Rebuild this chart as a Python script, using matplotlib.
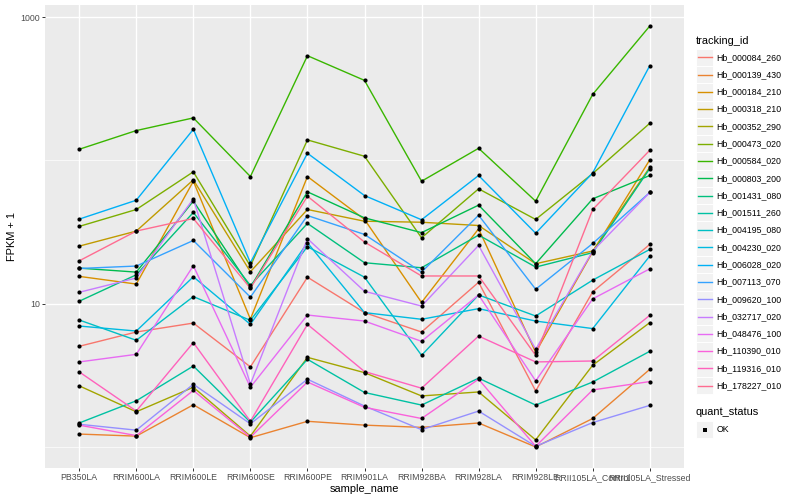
import matplotlib
matplotlib.use("Agg")
import matplotlib.pyplot as plt
from matplotlib.patches import Rectangle
from matplotlib.ticker import NullFormatter
import numpy as np

plt.rcParams['font.family'] = ['Liberation Sans', 'DejaVu Sans']

samples = ["PB350LA", "RRIM600LA", "RRIM600LE", "RRIM600SE", "RRIM600PE", "RRIM901LA",
           "RRIM928BA", "RRIM928LA", "RRIM928LE", "RRII105LA_Control", "RRII105LA_Stressed"]

ids = ["Hb_000084_260", "Hb_000139_430", "Hb_000184_210", "Hb_000318_210", "Hb_000352_290",
       "Hb_000473_020", "Hb_000584_020", "Hb_000803_200", "Hb_001431_080", "Hb_001511_260",
       "Hb_004195_080", "Hb_004230_020", "Hb_006028_020", "Hb_007113_070", "Hb_009620_100",
       "Hb_032717_020", "Hb_048476_100", "Hb_110390_010", "Hb_119316_010", "Hb_178227_010"]

# FPKM + 1, one list per gene, in sample order
hb_000084_260 = [5.04, 6.34, 7.32, 3.62, 15.3, 8.66, 6.34, 14.1, 2.46, 12.1, 25.9]
hb_000139_430 = [1.23, 1.19, 1.97, 1.16, 1.51, 1.42, 1.37, 1.47, 1.00, 1.58, 3.48]
hb_000184_210 = [15.5, 13.7, 71.5, 7.8, 77.1, 38.7, 10.2, 33.3, 4.58, 23.0, 100.8]
hb_000318_210 = [25.2, 32.1, 73.1, 16.7, 45.4, 37.6, 37.0, 35.1, 19.0, 23.3, 89.5]
hb_000352_290 = [2.67, 1.76, 2.61, 1.19, 4.22, 3.30, 2.27, 2.42, 1.12, 3.72, 7.37]
hb_000473_020 = [34.6, 45.4, 83.2, 18.3, 138.9, 106.8, 28.8, 63.3, 38.7, 80.9, 181.4]
hb_000584_020 = [119.5, 161.4, 197.8, 77.1, 537.5, 361.5, 71.5, 121.4, 51.9, 288.8, 865.5]
hb_000803_200 = [17.7, 16.6, 52.0, 13.0, 60.3, 39.7, 31.3, 48.7, 19.0, 53.9, 78.4]
hb_001431_080 = [10.4, 15.9, 43.3, 13.4, 36.3, 19.3, 17.8, 30.1, 18.0, 22.7, 87.7]
hb_001511_260 = [1.47, 2.10, 3.67, 1.49, 4.09, 2.40, 1.96, 3.02, 1.96, 2.84, 4.65]
hb_004195_080 = [7.69, 5.55, 11.2, 7.65, 25.0, 15.3, 4.36, 11.5, 8.2, 14.6, 23.9]
hb_004230_020 = [6.98, 6.44, 15.4, 7.17, 26.6, 8.66, 7.78, 9.23, 7.56, 6.70, 21.5]
hb_006028_020 = [38.9, 52.7, 164.7, 19.3, 112.1, 56.8, 38.5, 78.4, 31.0, 81.8, 457.7]
hb_007113_070 = [17.6, 18.3, 27.6, 11.1, 41.2, 30.4, 16.6, 41.4, 12.6, 26.3, 59.7]
hb_009620_100 = [1.44, 1.31, 2.74, 1.45, 2.97, 1.93, 1.32, 1.78, 1.01, 1.48, 1.95]
hb_032717_020 = [12.0, 15.1, 53.9, 2.74, 28.4, 12.2, 9.62, 25.5, 4.80, 23.3, 59.7]
hb_048476_100 = [3.92, 4.43, 18.4, 2.61, 8.33, 7.56, 5.46, 11.5, 2.89, 10.8, 17.5]
hb_110390_010 = [1.42, 1.20, 2.48, 1.17, 2.84, 1.89, 1.58, 2.97, 1.01, 2.50, 2.86]
hb_119316_010 = [3.34, 1.78, 5.35, 1.51, 7.17, 3.36, 2.57, 5.94, 3.92, 3.98, 8.29]
hb_178227_010 = [19.9, 32.1, 39.3, 12.8, 56.2, 26.9, 15.6, 15.6, 4.36, 45.4, 117.6]

series = [hb_000084_260, hb_000139_430, hb_000184_210, hb_000318_210, hb_000352_290,
          hb_000473_020, hb_000584_020, hb_000803_200, hb_001431_080, hb_001511_260,
          hb_004195_080, hb_004230_020, hb_006028_020, hb_007113_070, hb_009620_100,
          hb_032717_020, hb_048476_100, hb_110390_010, hb_119316_010, hb_178227_010]

colors = ["#F8766D", "#EA8331", "#D89000", "#C09B00", "#A3A500", "#7CAE00", "#39B600",
          "#00BB4E", "#00BF7D", "#00C1A3", "#00BFC4", "#00BAE0", "#00B0F6", "#35A2FF",
          "#9590FF", "#C77CFF", "#E76BF3", "#FA62DB", "#FF62BC", "#FF6C91"]

fig = plt.figure(figsize=(8, 5), dpi=100)
ax = fig.add_axes([45 / 800, 32 / 500, 639 / 800, 463 / 500])
ax.set_facecolor('#EBEBEB')
ax.set_axisbelow(True)

x = np.arange(len(samples))
for vals, c in zip(series, colors):
    ax.plot(x, vals, color=c, lw=1.0, zorder=3)
for vals in series:
    ax.plot(x, vals, 'o', color='black', ms=3.0, mew=0, zorder=4, ls='none')

ax.set_yscale('log')
allv = np.concatenate([np.array(s) for s in series])
lo, hi = np.log10(allv.min()), np.log10(allv.max())
pad = 0.05 * (hi - lo)
ax.set_ylim(10 ** (lo - pad), 10 ** (hi + pad))
ax.set_xlim(-0.6, len(samples) - 0.4)

ax.set_yticks([10, 1000])
ax.set_yticklabels(["10", "1000"])
ax.set_yticks([1, 100], minor=True)
ax.yaxis.set_minor_formatter(NullFormatter())
ax.set_xticks(x)
ax.set_xticklabels(samples)

ax.grid(which='major', color='white', lw=1.0)
ax.grid(which='minor', axis='y', color='white', lw=0.5)
for sp in ax.spines.values():
    sp.set_visible(False)
ax.tick_params(which='major', length=2.0, width=0.7, color='#333333',
               labelsize=6.34, labelcolor='#4D4D4D', pad=1.6)
ax.tick_params(which='minor', length=0)

ax.set_xlabel("sample_name", fontsize=7.92, labelpad=1.5)
ax.set_ylabel("FPKM + 1", fontsize=7.92, labelpad=2.5)

# legend drawn in pixel space
lg = fig.add_axes([0, 0, 1, 1])
lg.set_xlim(0, 800)
lg.set_ylim(500, 0)
lg.axis('off')
lg.patch.set_alpha(0)

lg.text(696, 40.7, "tracking_id", fontsize=7.92, va='center', ha='left')
key = 17.28
for i, (name, c) in enumerate(zip(ids, colors)):
    yc = 57.3 + i * key
    lg.add_patch(Rectangle((696, yc - key / 2), key, key, fc='#F2F2F2', ec='white', lw=0.7))
    lg.plot([697.8, 711.6], [yc, yc], color=c, lw=1.0)
    lg.text(716.5, yc, name, fontsize=6.34, va='center', ha='left')

lg.text(696, 412.3, "quant_status", fontsize=7.92, va='center', ha='left')
yc = 429.5
lg.add_patch(Rectangle((696, yc - key / 2), key, key, fc='#F2F2F2', ec='white', lw=0.7))
lg.plot([704.6], [yc], 's', color='black', ms=2.6, mew=0)
lg.text(716.5, yc, "OK", fontsize=6.34, va='center', ha='left')

fig.savefig("out.png", dpi=100)
